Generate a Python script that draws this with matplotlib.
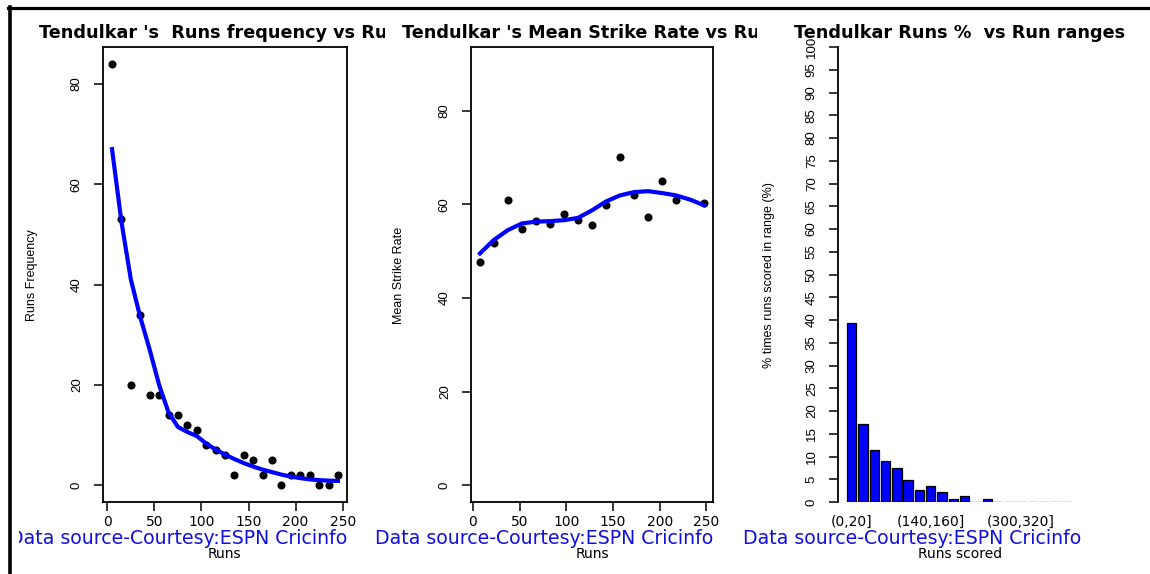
import matplotlib
matplotlib.use("Agg")
import matplotlib.pyplot as plt
from matplotlib.lines import Line2D
from matplotlib.transforms import Bbox

W, H = 1150, 574

# Runs frequency vs runs (bin mid points)
freq_runs = [5, 15, 25, 35, 45, 55, 65, 75, 85, 95, 105, 115, 125, 135, 145,
             155, 165, 175, 185, 195, 205, 215, 225, 235, 245]
freq_count = [84, 53, 20, 34, 18, 18, 14, 14, 12, 11, 8, 7, 6, 2, 6,
              5, 2, 5, 0, 2, 2, 2, 0, 0, 2]
freq_smooth = [67, 52.5, 41, 33.5, 27, 20, 14.5, 11.6, 10.6, 9.8, 8.3, 7.1, 6.1, 5.2, 4.4,
               3.7, 3.1, 2.6, 2.1, 1.7, 1.4, 1.15, 1.0, 0.9, 0.85]

# Mean strike rate vs runs
sr_runs = [7.5, 22.5, 37.5, 52.5, 67.5, 82.5, 97.5, 112.5, 127.5, 142.5,
           157.5, 172.5, 187.5, 202.5, 217.5, 247.5]
sr_mean = [47.7, 51.7, 61.0, 54.7, 56.4, 55.7, 57.9, 56.6, 55.5, 59.8,
           70.0, 61.9, 57.2, 64.9, 61.0, 60.2]
sr_smooth_runs = [7.5, 22.5, 37.5, 52.5, 67.5, 82.5, 97.5, 112.5, 127.5, 142.5,
                  157.5, 172.5, 187.5, 202.5, 217.5, 232.5, 247.5]
sr_smooth = [49.5, 52.4, 54.5, 55.9, 56.3, 56.4, 56.6, 57.1, 58.7, 60.6,
             61.9, 62.6, 62.8, 62.4, 61.9, 61.0, 59.8]

# Percentage of innings per run range
range_labels = ["(0,20]", "(20,40]", "(40,60]", "(60,80]", "(80,100]", "(100,120]",
                "(120,140]", "(140,160]", "(160,180]", "(180,200]", "(200,220]",
                "(220,240]", "(240,260]", "(260,280]", "(280,300]", "(300,320]",
                "(320,340]", "(340,360]", "(360,380]", "(380,400]"]
range_pct = [39.3, 17.2, 11.5, 9.0, 7.4, 4.9, 2.6, 3.5, 2.3, 0.66, 1.3,
             0, 0.66, 0, 0, 0, 0, 0, 0, 0]
shown_labels = ["(0,20]", "(140,160]", "(300,320]"]

source = "Data source-Courtesy:ESPN Cricinfo"


def fx(px):
    return px / W


def fy(py):
    return 1 - py / H


fig = plt.figure(figsize=(W / 100, H / 100), dpi=100)
fig.patch.set_facecolor("white")

hfont = "DejaVu Sans"
vfont = "Liberation Sans"


def make_axes(x0, x1):
    ax = fig.add_axes([fx(x0), fy(502), fx(x1) - fx(x0), fy(47) - fy(502)])
    for s in ax.spines.values():
        s.set_linewidth(1.3)
    ax.tick_params(direction="out", length=6.5, width=1.1, colors="black")
    ax.tick_params(axis="x", pad=3, labelsize=10)
    ax.tick_params(axis="y", pad=8, labelsize=9.5, labelrotation=90)
    return ax


def style_ticklabels(ax):
    for t in ax.get_xticklabels():
        t.set_fontfamily(hfont)
    for t in ax.get_yticklabels():
        t.set_fontfamily(vfont)
        t.set_va("center")


def title(text, cx, clip_x0, clip_x1):
    t = fig.text(fx(cx), fy(33), text, ha="center", va="center", fontsize=12.7,
                 fontweight="bold", family=hfont)
    t.set_clip_box(Bbox([[clip_x0, 0], [clip_x1, H]]))
    t.set_clip_on(True)
    return t


# Panel 1
ax1 = make_axes(103, 347)
ax1.plot(freq_runs, freq_count, "o", color="black", ms=4.8)
ax1.plot(freq_runs, freq_smooth, color="blue", lw=3)
ax1.set_xlim(-4.6, 254.6)
ax1.set_ylim(-3.36, 87.36)
ax1.set_xticks([0, 50, 100, 150, 200, 250])
ax1.set_yticks([0, 20, 40, 60, 80])
style_ticklabels(ax1)

# Panel 2
ax2 = make_axes(471, 713)
ax2.plot(sr_runs, sr_mean, "o", color="black", ms=4.8)
ax2.plot(sr_smooth_runs, sr_smooth, color="blue", lw=3)
ax2.set_xlim(-2.1, 257.1)
ax2.set_ylim(-3.6, 93.6)
ax2.set_xticks([0, 50, 100, 150, 200, 250])
ax2.set_yticks([0, 20, 40, 60, 80])
style_ticklabels(ax2)

# Panel 3
ax3 = make_axes(838, 1080)
pos = [0.7 + 1.2 * i for i in range(len(range_pct))]
ax3.bar(pos, range_pct, width=1.0, color="blue", edgecolor="black", linewidth=0.9)
ax3.set_xlim(-0.752, 24.952)
ax3.set_ylim(0, 100)
for side in ["top", "right", "bottom"]:
    ax3.spines[side].set_visible(False)
ax3.spines["left"].set_bounds(0, 100)
ax3.set_yticks(list(range(0, 101, 5)))
ax3.set_xticks([pos[range_labels.index(l)] for l in shown_labels])
ax3.set_xticklabels(shown_labels)
ax3.tick_params(axis="x", length=0, pad=9)
style_ticklabels(ax3)

# Titles
title("Tendulkar 's  Runs frequency vs Runs", 225, 0, 385)
title("Tendulkar 's Mean Strike Rate vs Runs", 592, 385, 757)
title("Tendulkar Runs %  vs Run ranges", 960, 757, W)

# Axis labels
for cx, lab in [(224, "Runs"), (592, "Runs"), (960, "Runs scored")]:
    fig.text(fx(cx), fy(554), lab, ha="center", va="center", fontsize=10, family=hfont)
for x, lab in [(32, "Runs Frequency"), (399, "Mean Strike Rate"),
               (769, "% times runs scored in range (%)")]:
    fig.text(fx(x), fy(275), lab, ha="center", va="center", rotation=90,
             fontsize=9, family=vfont)

# Data source notes (right aligned to plot edge)
for rx, cx0 in [(347, 19), (713, 0), (1081, 0)]:
    t = fig.text(fx(rx), fy(539), source, ha="right", va="center", fontsize=13.6,
                 color="#1010e0", family=hfont)
    t.set_clip_box(Bbox([[cx0, 0], [W, H]]))
    t.set_clip_on(True)

# Frame lines of the screenshot
fig.add_artist(Line2D([fx(8), fx(W)], [fy(8), fy(8)], color="black", lw=2.3))
fig.add_artist(Line2D([fx(9.5), fx(9.5)], [fy(7), fy(H)], color="black", lw=2.6))

fig.savefig("out.png", dpi=100, facecolor="white")
